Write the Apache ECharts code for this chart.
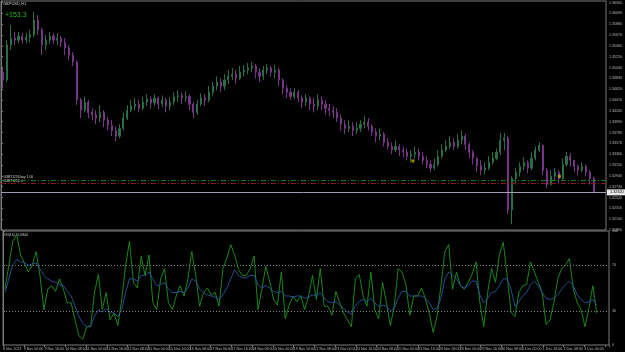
<!DOCTYPE html>
<html>
<head>
<meta charset="utf-8">
<title>GBPUSD,H1</title>
<script src="https://cdn.jsdelivr.net/npm/echarts@6/dist/echarts.min.js"></script>
<style>
  html, body { margin: 0; padding: 0; background: #000; }
  #chart { width: 625px; height: 352px; }
</style>
</head>
<body>
<div id="chart"></div>
<script>
// GBPUSD H1, one candle per 3 hours
// prices are in pips above 1.30000 (612 -> 1.36120)
const firstOpen = 495
const closes = [
  480, 548, 561, 557, 565, 557, 563, 567, 596, 577,
  548, 557, 565, 557, 561, 553, 542, 528, 515, 441,
  421, 437, 417, 412, 406, 417, 402, 392, 382, 371,
  386, 406, 421, 429, 433, 425, 437, 443, 435, 445,
  433, 441, 429, 437, 447, 450, 445, 448, 433, 417,
  433, 445, 441, 456, 468, 476, 468, 480, 487, 491,
  483, 495, 499, 503, 507, 495, 487, 499, 503, 495,
  499, 480, 464, 456, 448, 456, 445, 437, 445, 433,
  429, 441, 433, 425, 421, 417, 406, 394, 386, 390,
  382, 386, 394, 398, 390, 379, 371, 375, 359, 351,
  344, 351, 344, 340, 332, 336, 340, 332, 324, 316,
  309, 316, 332, 344, 351, 359, 351, 363, 371, 355,
  340, 328, 314, 305, 309, 320, 328, 340, 363, 367,
  228, 289, 301, 312, 320, 309, 328, 344, 353, 305,
  277, 293, 301, 289, 316, 332, 324, 312, 305, 312,
  301, 289, 262
]
const highs = [
  503, 557, 586, 573, 573, 571, 571, 577, 612, 606,
  581, 567, 573, 571, 571, 565, 561, 548, 534, 518,
  445, 448, 441, 425, 421, 431, 421, 408, 402, 390,
  394, 417, 431, 441, 445, 441, 448, 452, 448, 452,
  448, 450, 445, 447, 456, 460, 456, 458, 452, 437,
  441, 454, 452, 468, 476, 487, 483, 491, 499, 503,
  499, 507, 509, 513, 515, 511, 503, 507, 511, 507,
  509, 503, 483, 470, 464, 464, 460, 450, 452, 448,
  445, 452, 448, 441, 433, 429, 425, 413, 402, 402,
  398, 398, 402, 410, 406, 394, 386, 386, 379, 367,
  359, 363, 355, 351, 347, 344, 351, 347, 340, 332,
  324, 328, 344, 355, 363, 371, 367, 375, 382, 375,
  359, 344, 330, 324, 320, 332, 340, 347, 377, 377,
  371, 293, 309, 320, 330, 324, 340, 351, 359, 355,
  309, 305, 309, 305, 328, 340, 338, 324, 316, 320,
  316, 305, 293
]
const lows = [
  464, 476, 538, 548, 551, 550, 551, 553, 563, 567,
  528, 538, 550, 550, 548, 544, 528, 518, 507, 431,
  406, 417, 406, 402, 394, 398, 388, 382, 371, 361,
  367, 382, 402, 417, 421, 417, 421, 429, 425, 429,
  423, 427, 417, 421, 431, 437, 433, 437, 421, 406,
  412, 429, 429, 437, 450, 460, 456, 460, 472, 480,
  472, 480, 487, 491, 495, 483, 476, 480, 491, 487,
  483, 468, 452, 445, 441, 443, 437, 425, 429, 421,
  417, 421, 421, 413, 410, 406, 398, 382, 375, 379,
  371, 375, 379, 386, 382, 371, 359, 363, 351, 344,
  336, 340, 332, 330, 324, 320, 328, 324, 316, 309,
  301, 305, 312, 328, 340, 347, 344, 347, 355, 344,
  328, 316, 301, 295, 297, 305, 316, 324, 334, 344,
  220, 200, 277, 293, 305, 299, 305, 324, 340, 295,
  270, 277, 285, 281, 285, 312, 312, 301, 295, 301,
  293, 277, 260
]
// RSI pane, same 3 hour steps
const rsiFast = [
  49, 70, 91, 97, 79, 72, 64, 70, 82, 61,
  31, 49, 52, 47, 58, 49, 37, 37, 22, 8,
  5, 16, 16, 46, 62, 31, 46, 22, 28, 17,
  40, 70, 91, 55, 50, 78, 61, 79, 37, 31,
  58, 67, 37, 31, 43, 52, 43, 58, 82, 61,
  34, 46, 50, 44, 46, 34, 67, 76, 88, 79,
  66, 61, 61, 67, 78, 31, 49, 69, 56, 40,
  35, 64, 23, 35, 43, 38, 43, 31, 43, 61,
  40, 67, 34, 34, 26, 47, 37, 28, 22, 16,
  58, 62, 43, 34, 64, 31, 23, 55, 37, 17,
  34, 67, 64, 53, 26, 43, 43, 50, 41, 28,
  11, 25, 52, 82, 88, 49, 64, 52, 49, 55,
  62, 73, 37, 16, 46, 67, 55, 79, 90, 61,
  29, 25, 46, 52, 53, 73, 64, 55, 46, 18,
  22, 37, 58, 67, 70, 76, 49, 37, 31, 16,
  32, 52, 28
]
const rsiSlow = [
  46, 58, 70, 75, 73, 72, 70, 71, 72, 67,
  61, 58, 56, 55, 53, 52, 47, 43, 34, 25,
  19, 16, 17, 25, 31, 29, 32, 29, 28, 25,
  31, 46, 58, 58, 56, 61, 61, 64, 58, 52,
  53, 55, 49, 46, 46, 47, 46, 50, 58, 56,
  49, 46, 44, 43, 42, 40, 44, 50, 58, 66,
  61, 59, 59, 61, 61, 53, 50, 52, 50, 47,
  46, 47, 43, 43, 42, 43, 43, 41, 42, 44,
  43, 46, 41, 38, 37, 38, 35, 32, 29, 27,
  34, 38, 40, 38, 41, 37, 34, 35, 34, 30,
  32, 41, 47, 47, 43, 43, 43, 43, 41, 37,
  31, 32, 41, 58, 64, 61, 58, 52, 50, 52,
  56, 56, 44, 37, 41, 46, 47, 52, 58, 58,
  49, 34, 38, 43, 46, 53, 56, 52, 46, 41,
  40, 41, 44, 49, 53, 56, 52, 44, 40, 37,
  38, 40, 35
]
// one label every 16 bars (hours)
const timeLabels = [
  '8 Nov 2021', '9 Nov 00:00', '9 Nov 16:00', '10 Nov 08:00', '11 Nov 00:00',
  '11 Nov 16:00', '12 Nov 08:00', '15 Nov 00:00', '15 Nov 16:00', '16 Nov 08:00',
  '17 Nov 00:00', '17 Nov 16:00', '18 Nov 08:00', '19 Nov 00:00', '19 Nov 16:00',
  '22 Nov 08:00', '23 Nov 00:00', '23 Nov 16:00', '24 Nov 08:00', '25 Nov 00:00',
  '25 Nov 16:00', '26 Nov 08:00', '29 Nov 00:00', '29 Nov 16:00', '30 Nov 08:00',
  '1 Dec 00:00', '1 Dec 16:00', '2 Dec 08:00', '3 Dec 00:00'
]
const rsiTicks = [0, 30, 70, 100]
const rsiLevels = [70, 30]
const bidPips = 262
const buyLevel = 286
const stopLevel = 280
// [hour, pips] of the small yellow trade marks
const tradeMarks = [[318, 323], [431, 293]]

const chart = echarts.init(document.getElementById('chart'))

const candles = closes.map((c, i) => {
  const o = i === 0 ? firstOpen : closes[i - 1]
  return [i * 3 + 1.5, o, c, Math.min(lows[i], o, c), Math.max(highs[i], o, c)]
})
const fastLine = rsiFast.map((v, i) => [i * 3 + 1.5, v])
const slowLine = rsiSlow.map((v, i) => [i * 3 + 1.5, v])

const toPrice = v => (1.3 + v / 10000).toFixed(5)
const small = { fontFamily: 'Liberation Sans', fontSize: 3.6, color: '#b8b8b8' }

const option = {
  backgroundColor: '#000',
  animation: false,
  grid: [
    { left: 1, top: 1, width: 608, height: 229, show: true, borderColor: '#7a7a7a', borderWidth: 1 },
    { left: 1, top: 231, width: 608, height: 114, show: true, borderColor: '#7a7a7a', borderWidth: 1 }
  ],
  xAxis: [
    { type: 'value', gridIndex: 0, min: 0, max: 467, show: false },
    {
      type: 'value', gridIndex: 1, min: 0, max: 467, interval: 16,
      axisLine: { show: false },
      axisTick: { show: true, length: 2, lineStyle: { color: '#7a7a7a' } },
      axisLabel: Object.assign({}, small, {
        align: 'left', margin: 2,
        formatter: v => timeLabels[v / 16] || ''
      }),
      splitLine: { show: false }
    }
  ],
  yAxis: [
    {
      type: 'value', gridIndex: 0, position: 'right', min: 189, max: 633, interval: 21,
      axisLine: { show: true, lineStyle: { color: '#7a7a7a' } },
      axisTick: { show: true, length: 2, lineStyle: { color: '#7a7a7a' } },
      axisLabel: Object.assign({}, small, { margin: 3, formatter: toPrice }),
      splitLine: { show: false }
    },
    {
      type: 'value', gridIndex: 1, position: 'right', min: 0, max: 100,
      axisLine: { show: true, lineStyle: { color: '#7a7a7a' } },
      axisTick: { show: true, length: 2, customValues: rsiTicks, lineStyle: { color: '#7a7a7a' } },
      axisLabel: Object.assign({}, small, { margin: 3, customValues: rsiTicks }),
      splitLine: { show: false }
    }
  ],
  graphic: [
    { type: 'text', left: 3, top: 1.5, style: { text: 'GBPUSD,H1', fill: '#c8c8c8', font: '4px Liberation Sans' } },
    { type: 'text', left: 5, top: 12, style: { text: '+153.3', fill: '#22b822', font: '7px Liberation Sans' } },
    { type: 'text', left: 3, top: 175.5, style: { text: '#48871256 buy 1.00', fill: '#d8d8d8', font: '3.3px Liberation Sans' } },
    { type: 'text', left: 3, top: 179.5, style: { text: '#48871256 sl', fill: '#d8d8d8', font: '3.3px Liberation Sans' } },
    { type: 'text', left: 3, top: 234, style: { text: 'RSI(14) 32.0844', fill: '#c8c8c8', font: '3.4px Liberation Sans' } }
  ],
  series: [
    {
      type: 'candlestick',
      xAxisIndex: 0, yAxisIndex: 0,
      data: candles,
      encode: { x: 0, y: [1, 2, 3, 4] },
      barWidth: 1.6,
      itemStyle: {
        color: '#2a6e45', color0: '#773585',
        borderColor: '#2a6e45', borderColor0: '#773585', borderWidth: 1
      },
      markLine: {
        silent: true, symbol: ['none', 'none'],
        data: [
          { yAxis: buyLevel, lineStyle: { color: '#1a7a1a', width: 1, type: [5, 2, 1, 2] }, label: { show: false } },
          { yAxis: stopLevel, lineStyle: { color: '#8c1616', width: 1, type: [5, 2, 1, 2] }, label: { show: false } },
          {
            yAxis: bidPips, lineStyle: { color: '#a0a0b0', width: 1, type: 'solid' },
            label: {
              show: true, position: 'end', distance: 1, formatter: toPrice(bidPips),
              backgroundColor: '#e8e8e8', color: '#000', fontFamily: 'Liberation Sans',
              fontSize: 3.8, padding: [1, 3]
            }
          }
        ]
      }
    },
    {
      type: 'scatter',
      xAxisIndex: 0, yAxisIndex: 0,
      data: tradeMarks,
      symbol: 'rect', symbolSize: [3, 3],
      itemStyle: { color: '#c8b400' }
    },
    {
      type: 'line',
      xAxisIndex: 1, yAxisIndex: 1,
      data: fastLine,
      showSymbol: false, symbol: 'none',
      lineStyle: { color: '#1c951c', width: 0.9 },
      markLine: {
        silent: true, symbol: ['none', 'none'],
        label: { show: false },
        lineStyle: { color: '#808080', width: 1, type: [1, 2] },
        data: rsiLevels.map(v => ({ yAxis: v }))
      }
    },
    {
      type: 'line',
      xAxisIndex: 1, yAxisIndex: 1,
      data: slowLine,
      showSymbol: false, symbol: 'none',
      lineStyle: { color: '#2a55a0', width: 0.9 }
    }
  ]
}

chart.setOption(option)
</script>
</body>
</html>
